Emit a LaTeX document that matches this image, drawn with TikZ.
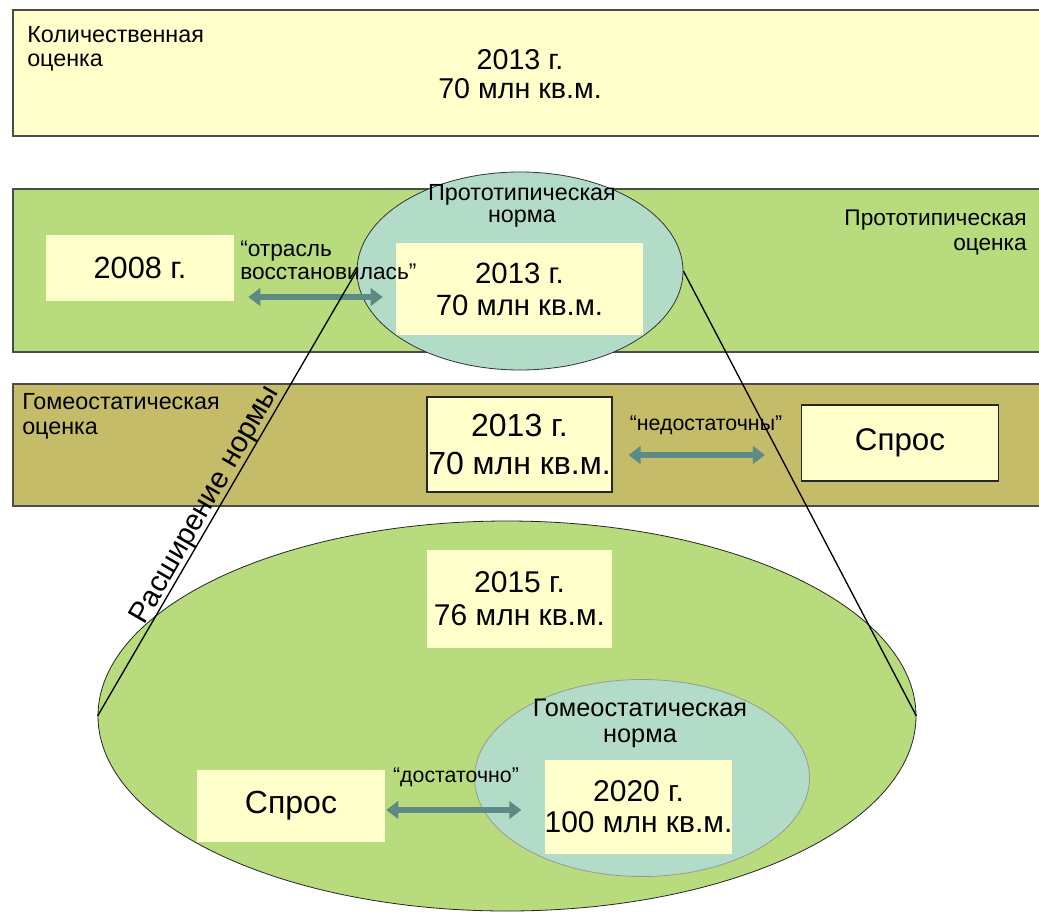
\documentclass[tikz,border=0pt]{standalone}
\usepackage{fontspec}
\setmainfont{Liberation Sans}
\usetikzlibrary{arrows.meta,shapes.geometric}
\definecolor{Cream}{HTML}{FFFFCC}
\definecolor{Leaf}{HTML}{B8DC7D}
\definecolor{Mint}{HTML}{B3DCC8}
\definecolor{Olive}{HTML}{C5BC6A}
\definecolor{Slate}{HTML}{5C8A84}
\newcommand\lblfont{\fontsize{17.5}{18.5}\selectfont}
\newcommand\numfont{\fontsize{22}{24}\selectfont}

\begin{document}
\begin{tikzpicture}[x=0.75pt, y=-0.75pt, >=Latex]
\tikzset{band/.style={draw=black!70, line width=1.4pt, anchor=north west, minimum width=779pt, inner sep=0}, card/.style={fill=Cream, align=center, inner sep=0, font=\numfont}, framed/.style={card, draw=black!85, line width=.8pt}, norm/.style={ellipse, draw=black!80, line width=.6pt, fill=Mint, inner sep=0}, lbl/.style={inner sep=0, font=\lblfont}, dbl/.style={draw=Slate, line width=5pt, {Triangle[length=9pt,width=13pt]}-{Triangle[length=9pt,width=13pt]}}}
\useasboundingbox (0,0) rectangle (1039,911);
\clip (0,0) rectangle (1039,911);
\fill[white] (0,0) rectangle (1039,911);
\node[band, fill=Cream, minimum height=94.5pt] (qband) at (12,9) {};
\node[band, fill=Leaf, minimum height=122.25pt] (pband) at (12,188) {};
\node[band, fill=Olive, minimum height=91.5pt] (hband) at (12,383) {};
\node[lbl, anchor=north west, align=left] (qlabel) at (27,26) {Количественная\\оценка};
\node[inner sep=0, align=center, anchor=north, font=\fontsize{21.5}{21.75}\selectfont] (qvalue) at (520,49) {2013 г.\\70 млн кв.м.};
\node[lbl, anchor=north east, align=right, font=\fontsize{17}{18.75}\selectfont] (plabel) at (1027,210) {Прототипическая\\оценка};
\node[norm, minimum width=244.5pt, minimum height=148.5pt] (pnorm) at (520,271) {};
\node[lbl, anchor=north, align=center, font=\fontsize{17.5}{16.8}\selectfont] (pnormlabel) at (522,184) {Прототипическая\\норма};
\node[card, minimum width=185.25pt, minimum height=69pt] (p2013) at (519.5,289) {2013 г.\\70 млн кв.м.};
\node[card, minimum width=141pt, minimum height=49.5pt, font=\fontsize{23}{24}\selectfont] (y2008) at (140,268) {2008 г.};
\node[lbl, anchor=north west, align=left, font=\fontsize{17}{17.25}\selectfont] (recov) at (240,241) {“отрасль\\восстановилась”};
\node[lbl, anchor=north west, align=left] (hlabel) at (22,393) {Гомеостатическая\\оценка};
\node[framed, minimum width=138.75pt, minimum height=71.25pt, font=\fontsize{24}{28.5}\selectfont] (h2013) at (519.5,444.5) {2013 г.\\70 млн кв.м.};
\node[lbl, anchor=north, font=\fontsize{16}{17}\selectfont] (lack) at (706,416) {“недостаточны”};
\node[framed, minimum width=147.75pt, minimum height=57pt, font=\fontsize{23.5}{24}\selectfont] (hdemand) at (900,443) {Спрос};
\node[ellipse, draw=black!85, line width=.6pt, fill=Leaf, minimum width=613.5pt, minimum height=292.5pt, inner sep=0] (wide) at (507,716) {};
\node[card, minimum width=138.75pt, minimum height=73.5pt, font=\fontsize{22.5}{24.75}\selectfont] (y2015) at (519.5,599) {2015 г.\\76 млн кв.м.};
\node[norm, draw=black!40, minimum width=251.25pt, minimum height=147.75pt] (hnorm) at (642,778) {};
\node[lbl, anchor=north, align=center, font=\fontsize{19}{19.5}\selectfont] (hnormlabel) at (640,699) {Гомеостатическая\\норма};
\node[card, minimum width=140.25pt, minimum height=70.5pt, font=\fontsize{22.5}{23.25}\selectfont] (y2020) at (638.5,807) {2020 г.\\100 млн кв.м.};
\node[card, minimum width=141pt, minimum height=54pt, font=\fontsize{24}{24}\selectfont] (sdemand) at (291,806) {Спрос};
\node[lbl, anchor=north, font=\fontsize{16}{17}\selectfont] (enough) at (456,768) {“достаточно”};
\draw[dbl] ([shift={(14,29)}]y2008.east) -- ([shift={(-13,8)}]p2013.west);
\draw[dbl] ([shift={(16,10.5)}]h2013.east) -- ([shift={(-36,12)}]hdemand.west);
\draw[dbl] ([shift={(1,4)}]sdemand.east) -- ([shift={(-23,3)}]y2020.west);
\draw[black, line width=1pt] (pnorm.west) -- (wide.west) (pnorm.east) -- (wide.east);
\node[rotate=60, inner sep=0, font=\fontsize{22}{24}\selectfont] (widen) at (206,505) {Расширение нормы};
\end{tikzpicture}
\end{document}
